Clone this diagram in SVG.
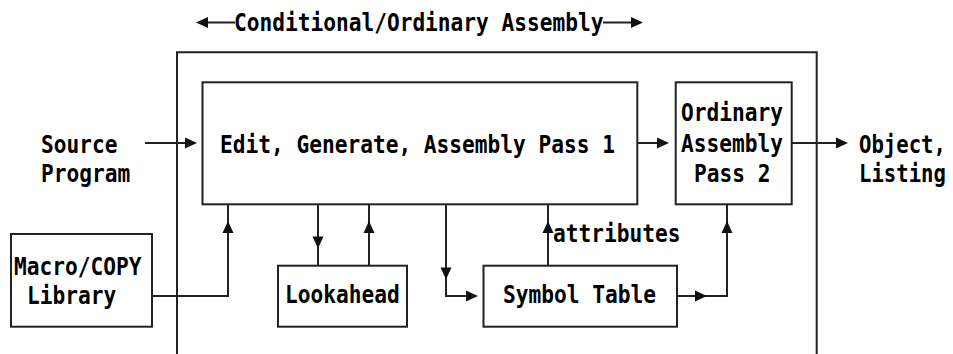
<svg xmlns="http://www.w3.org/2000/svg" width="953" height="354" viewBox="0 0 953 354">
  <style>
    .t { font-family: "DejaVu Sans Mono", "Liberation Mono", monospace; font-weight: bold; font-size: 24px; fill: #000; }
    .box { fill: none; stroke: #222; stroke-width: 2; }
    .ln { fill: none; stroke: #222; stroke-width: 2; }
    .ah { fill: #111; }
  </style>
  <defs>
    <!-- arrowhead, tip at origin pointing right -->
    <path id="ah" d="M0,0 L-12,-5.5 L-12,5.5 Z"/>
  </defs>

  <rect width="953" height="354" fill="#fff"/>

  <!-- scope banner -->
  <g id="scope">
    <line class="ln" x1="205" y1="22.5" x2="235" y2="22.5"/>
    <use href="#ah" class="ah" transform="translate(196,22.5) rotate(180)"/>
    <text class="t" x="234" y="30.5" textLength="369.5" lengthAdjust="spacingAndGlyphs">Conditional/Ordinary Assembly</text>
    <line class="ln" x1="603" y1="22.5" x2="634" y2="22.5"/>
    <use href="#ah" class="ah" transform="translate(643,22.5)"/>
    <path class="box" d="M177,354 V52.3 H816.7 V354"/>
  </g>

  <g id="source">
    <text class="t" x="41" y="153" textLength="76.4" lengthAdjust="spacingAndGlyphs">Source</text>
    <text class="t" x="41" y="182" textLength="89.2" lengthAdjust="spacingAndGlyphs">Program</text>
  </g>

  <g id="pass1">
    <rect class="box" x="202.5" y="82.3" width="434.8" height="122"/>
    <text class="t" x="220" y="153" textLength="395" lengthAdjust="spacingAndGlyphs">Edit, Generate, Assembly Pass 1</text>
  </g>

  <g id="pass2">
    <rect class="box" x="675.7" y="82.3" width="116" height="122"/>
    <text class="t" x="681" y="121" textLength="101.9" lengthAdjust="spacingAndGlyphs">Ordinary</text>
    <text class="t" x="681" y="152" textLength="101.9" lengthAdjust="spacingAndGlyphs">Assembly</text>
    <text class="t" x="694" y="182" textLength="76.4" lengthAdjust="spacingAndGlyphs">Pass 2</text>
  </g>

  <g id="output">
    <text class="t" transform="translate(859,153) scale(0.86,1)">Object,</text>
    <text class="t" transform="translate(859,182) scale(0.86,1)">Listing</text>
  </g>

  <g id="maclib">
    <rect class="box" x="11" y="234" width="141" height="92.7"/>
    <text class="t" x="14" y="275" textLength="127.4" lengthAdjust="spacingAndGlyphs">Macro/COPY</text>
    <text class="t" x="27" y="304" textLength="89.2" lengthAdjust="spacingAndGlyphs">Library</text>
  </g>

  <g id="lookahead">
    <rect class="box" x="278" y="265.7" width="129" height="61"/>
    <text class="t" x="285" y="303" textLength="114.7" lengthAdjust="spacingAndGlyphs">Lookahead</text>
  </g>

  <g id="symtab">
    <rect class="box" x="483.5" y="265.7" width="193.5" height="61"/>
    <text class="t" x="503" y="303" textLength="152.9" lengthAdjust="spacingAndGlyphs">Symbol Table</text>
  </g>

  <g id="connectors">
    <!-- source program into pass 1 -->
    <line class="ln" x1="145" y1="143" x2="188" y2="143"/>
    <use href="#ah" class="ah" transform="translate(197,143)"/>
    <!-- pass 1 to pass 2 -->
    <line class="ln" x1="637" y1="143" x2="660" y2="143"/>
    <use href="#ah" class="ah" transform="translate(669,143)"/>
    <!-- pass 2 to object/listing -->
    <line class="ln" x1="792" y1="143" x2="839" y2="143"/>
    <use href="#ah" class="ah" transform="translate(848,143)"/>
    <!-- macro library into pass 1 -->
    <path class="ln" d="M152,296 H228 V204.3"/>
    <use href="#ah" class="ah" transform="translate(228,221) rotate(-90)"/>
    <!-- pass 1 to lookahead and back -->
    <line class="ln" x1="318" y1="204.3" x2="318" y2="265.7"/>
    <use href="#ah" class="ah" transform="translate(318,248.5) rotate(90)"/>
    <line class="ln" x1="369" y1="265.7" x2="369" y2="204.3"/>
    <use href="#ah" class="ah" transform="translate(369,221) rotate(-90)"/>
    <!-- pass 1 to symbol table -->
    <path class="ln" d="M446,204.3 V296 H470"/>
    <use href="#ah" class="ah" transform="translate(446,279.5) rotate(90)"/>
    <use href="#ah" class="ah" transform="translate(478,296)"/>
    <!-- symbol table attributes back to pass 1 -->
    <line class="ln" x1="548" y1="265.7" x2="548" y2="204.3"/>
    <use href="#ah" class="ah" transform="translate(548,221) rotate(-90)"/>
    <text class="t" x="553" y="242" textLength="127.4" lengthAdjust="spacingAndGlyphs">attributes</text>
    <!-- symbol table to pass 2 -->
    <path class="ln" d="M677,296 H727 V204.3"/>
    <use href="#ah" class="ah" transform="translate(707,296)"/>
    <use href="#ah" class="ah" transform="translate(727,221) rotate(-90)"/>
  </g>
</svg>
